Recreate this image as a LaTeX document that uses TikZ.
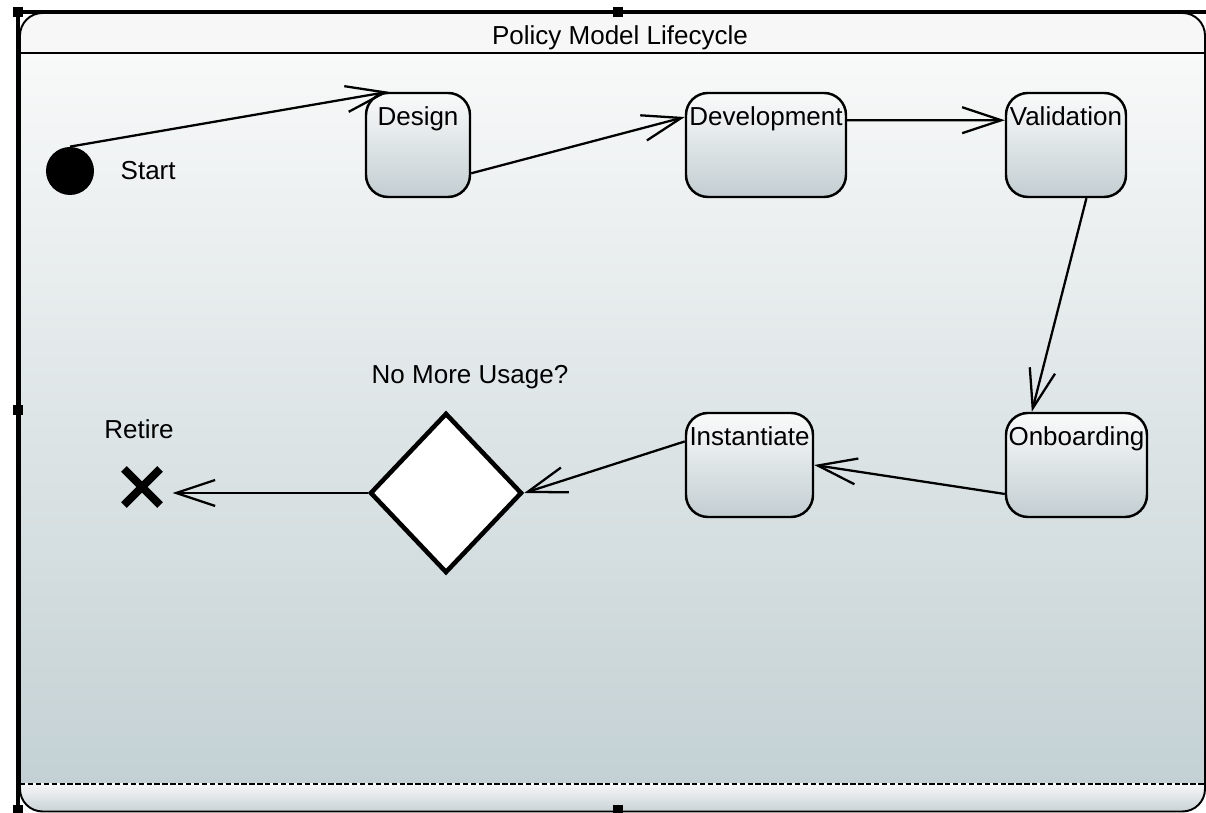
\documentclass[tikz,border=0pt]{standalone}
\usepackage{fontspec}
\setmainfont{Liberation Sans}
\usetikzlibrary{shapes.geometric, shapes.misc, positioning, arrows.meta}

\definecolor{bgTop}{HTML}{F8F9F9}
\definecolor{bgBottom}{HTML}{C4D1D4}
\definecolor{headBg}{HTML}{F7F7F7}
\definecolor{stripTop}{HTML}{F6F8F8}
\definecolor{stripBottom}{HTML}{C9D1D5}
\definecolor{boxTop}{HTML}{FAFBFB}
\definecolor{boxBottom}{HTML}{C3CED2}

\begin{document}
\begin{tikzpicture}[
    >={Straight Barb[length=0.78cm, width=0.52cm]},
    stage/.style={
        draw=black, rounded corners=0.44cm, line width=1.4pt,
        top color=boxTop, bottom color=boxBottom,
        inner sep=0pt, text height=0.66cm, text depth=1.42cm,
        minimum height=2.08cm, font=\fontsize{14.8}{17}\selectfont
    },
    caption/.style={inner sep=0pt, font=\fontsize{14.8}{17}\selectfont},
    trans/.style={->, line width=1.3pt}
]

\useasboundingbox[fill=white] (0,0) rectangle (24.12,16.26);

% -------------------------
% Frame
% -------------------------
\begin{scope}
    \clip[rounded corners=0.45cm] (0.4,0.03) rectangle (24.1,16.0);
    \fill[headBg] (0.4,15.2) rectangle (24.1,16.0);
    \shade[top color=bgTop, bottom color=bgBottom] (0.4,0.58) rectangle (24.1,15.2);
    \shade[top color=stripTop, bottom color=stripBottom] (0.4,0.03) rectangle (24.1,0.58);
\end{scope}
\draw[line width=1.1pt, rounded corners=0.45cm] (0.4,0.03) rectangle (24.1,16.0);
\draw[line width=1pt] (0.4,15.2) -- (24.1,15.2);
\draw[line width=1pt, dashed, dash pattern=on 3pt off 1.5pt] (0.4,0.58) -- (24.1,0.58);

% selection marks
\draw[line width=2.4pt] (0.36,16.02) -- (24.12,16.02);
\draw[line width=2pt] (0.36,16.02) -- (0.36,0.03);
\foreach \hx/\hy in {0.36/16.02, 12.36/16.02, 0.36/8.06, 0.36/0.06, 12.36/0.06}
    \fill[black] (\hx-0.1,\hy-0.1) rectangle (\hx+0.1,\hy+0.1);

% Title
\node[caption] (title) at (12.4,15.5) {Policy Model Lifecycle};

% -------------------------
% States
% -------------------------

% Start
\node[circle, fill=black, minimum size=0.96cm, inner sep=0pt] (start) at (1.4,12.84) {};
\node[caption, right=0.52cm of start] (startLabel) {Start};

% Top row
\node[stage, minimum width=2.08cm] (design) at (8.36,13.36) {Design};
\node[stage, minimum width=3.2cm] (development) at (15.32,13.36) {Development};
\node[stage, minimum width=2.4cm] (validation) at (21.32,13.36) {Validation};

% Bottom row
\node[stage, minimum width=2.82cm] (onboarding) at (21.53,6.96) {Onboarding};
\node[stage, minimum width=2.54cm] (instantiate) at (14.99,6.96) {Instantiate};

% Decision
\node[diamond, draw=black, line width=2.6pt, fill=white, inner sep=0pt,
      minimum width=3.04cm, minimum height=3.2cm] (decision) at (8.92,6.4) {};
\node[caption] (decisionLabel) at (9.4,8.72) {No More Usage?};

% End
\node[cross out, draw=black, line width=4.6pt, minimum size=0.56cm, inner sep=0pt] (retire) at (2.84,6.52) {};
\node[caption] (retireLabel) at (2.78,7.68) {Retire};

% -------------------------
% Transitions
% -------------------------
\draw[trans] (start.north) -- (design.119);
\draw[trans] (design.-28) -- (development.161);
\draw[trans] (development.17) -- (validation.158);
\draw[trans] (validation.-69) -- (onboarding.130);
\draw[trans] (onboarding.-158) -- (instantiate.east);
\draw[trans] (instantiate.160) -- (decision.east);
\draw[trans, shorten >=0.25cm] (decision.west) -- (decision.west -| retire.east);

\end{tikzpicture}
\end{document}
